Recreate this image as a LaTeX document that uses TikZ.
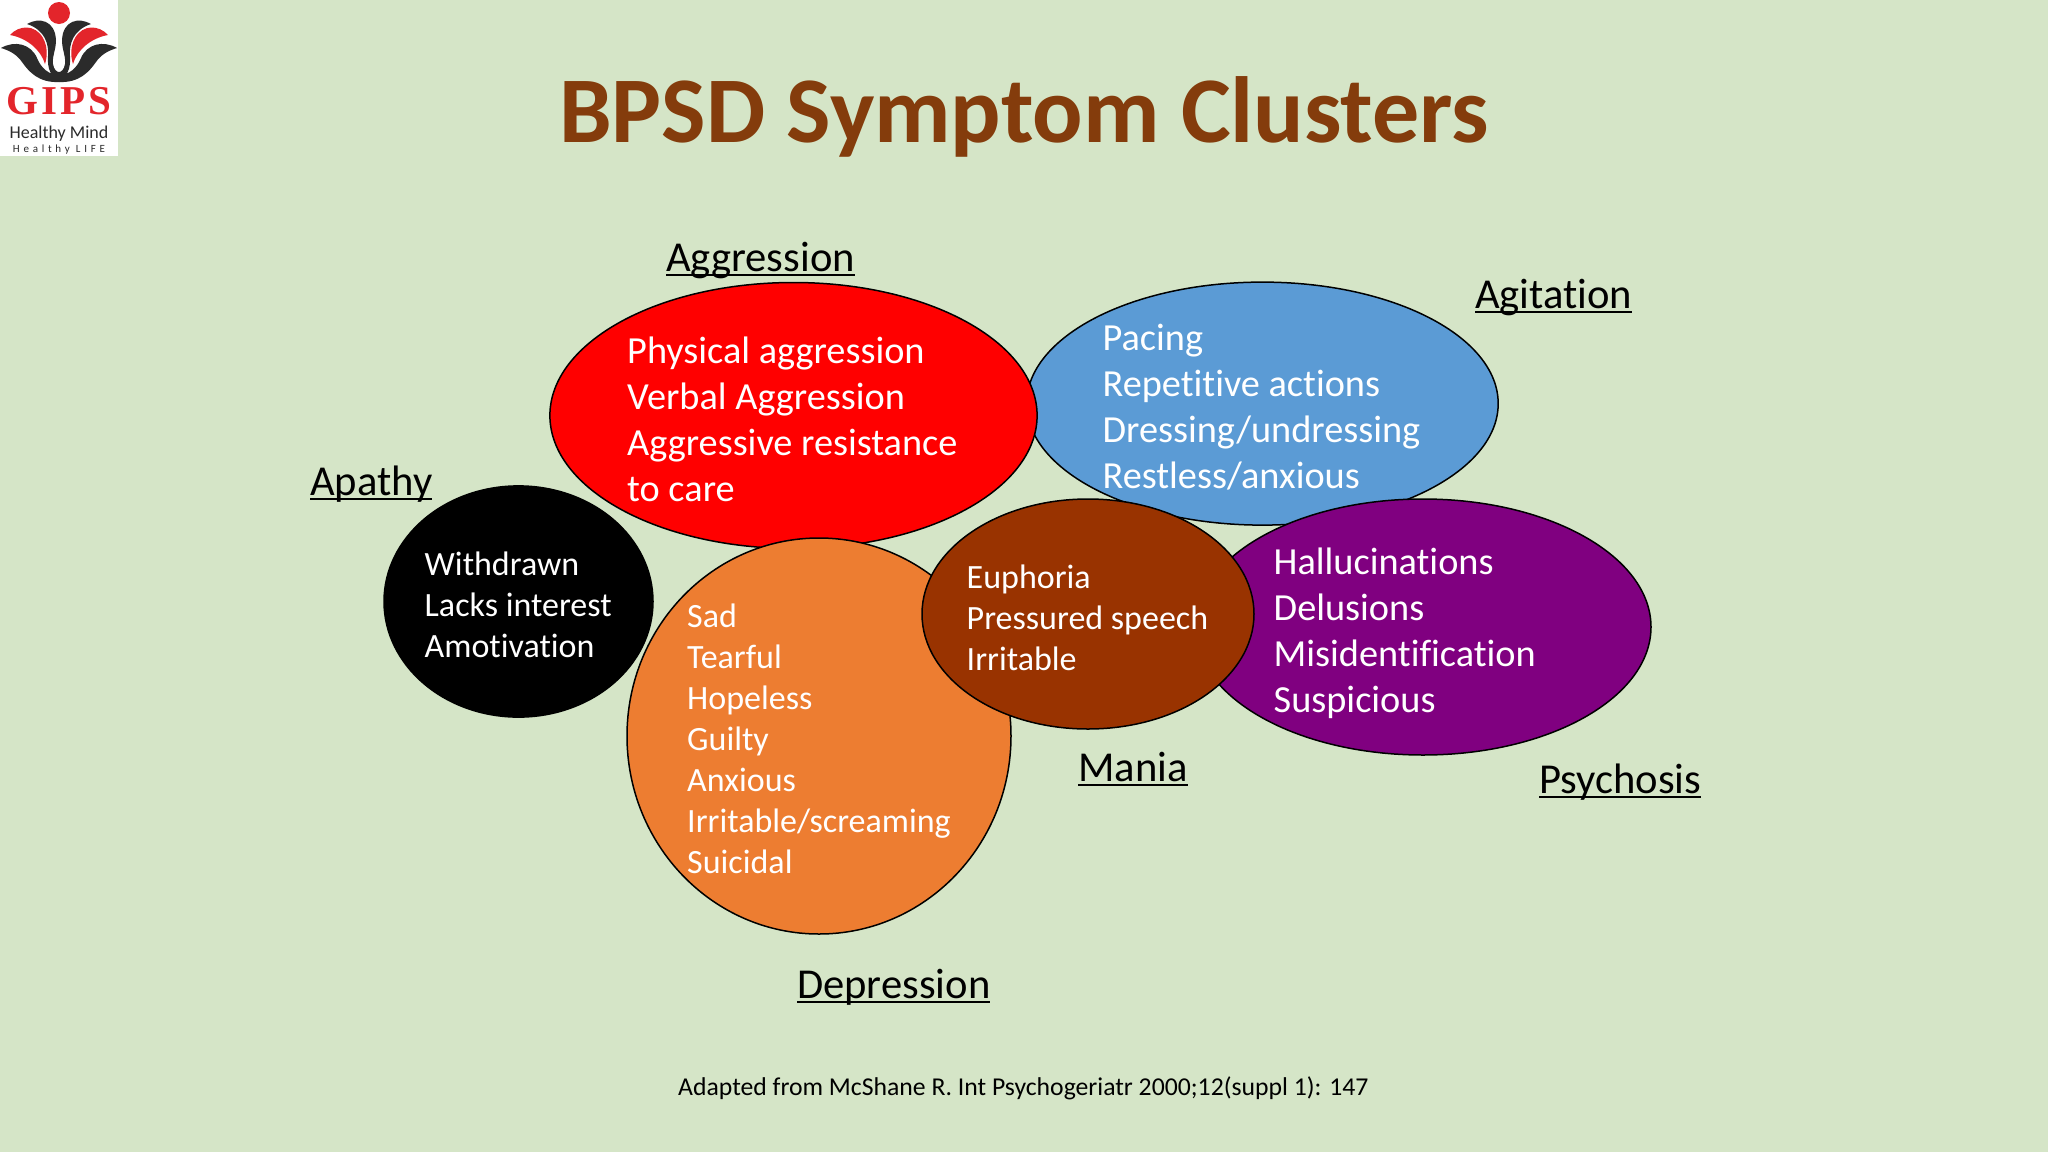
\documentclass[tikz,border=0pt]{standalone}
\usepackage{fontspec}
\setmainfont[Ligatures=NoCommon]{Carlito}
\newfontfamily\logofont{Liberation Serif}
\usetikzlibrary{shapes.geometric}

\definecolor{slidebg}{HTML}{D5E5C7}
\definecolor{titlebrown}{HTML}{843C0C}
\definecolor{aggred}{HTML}{FF0000}
\definecolor{agiblue}{HTML}{5B9BD5}
\definecolor{deporange}{HTML}{ED7D31}
\definecolor{maniabrown}{HTML}{993300}
\definecolor{psypurple}{HTML}{800080}
\definecolor{logored}{HTML}{E3252B}
\definecolor{logoblack}{HTML}{2B2B2B}

\newcommand{\ulabel}[1]{\setbox0\hbox{#1}\rlap{\rule[-4.5pt]{\wd0}{2.2pt}}#1}

\tikzset{
	cluster/.style={ellipse, draw=black, line width=1.5pt, inner sep=0pt},
	bigtext/.style={anchor=west, inner sep=0pt, align=left, text=white, font=\fontsize{38.3}{46.1}\selectfont},
	smalltext/.style={anchor=west, inner sep=0pt, align=left, text=white, font=\fontsize{34}{41}\selectfont},
	heading/.style={anchor=west, inner sep=0pt, text=black, font=\fontsize{42.6}{50}\selectfont},
}

\begin{document}
\begin{tikzpicture}[x=1pt,y=-1pt]
	\useasboundingbox (0,0) rectangle (2048,1152);
	\fill [slidebg] (0,0) rectangle (2048,1152);

	% logo
	\fill [white] (0,0) rectangle (118,156);
	\fill [logored] (59,13) circle (11);
	\foreach \side in {1,-1} {
		\begin{scope}[shift={(59,0)},xscale=\side]
			\fill [logoblack] (-32,24) .. controls (-20,17) and (-4,20) .. (-3,40)
				.. controls (-3,50) and (-7,56) .. (-6,64) .. controls (-5,70) and (-2,72) .. (0,72)
				-- (0,80) .. controls (-8,78) and (-12,68) .. (-11,56)
				.. controls (-10,44) and (-14,30) .. (-32,24) -- cycle;
			\fill [logored] (-49,35) .. controls (-40,25) and (-24,24) .. (-16,38)
				.. controls (-12,45) and (-11,55) .. (-14,64) .. controls (-18,50) and (-32,38) .. (-49,35) -- cycle;
			\fill [logoblack] (-58,48) .. controls (-44,40) and (-28,44) .. (-22,58)
				.. controls (-18,68) and (-10,75) .. (0,75) -- (0,82)
				.. controls (-20,83) and (-30,72) .. (-37,62) .. controls (-42,55) and (-48,51) .. (-58,48) -- cycle;
		\end{scope}
	}
	\node (logoname) [inner sep=0pt, text=logored] at (59,101) {\logofont\bfseries\fontsize{41}{42}\selectfont\addfontfeature{LetterSpace=8}GIPS};
	\node (logomind) [inner sep=0pt, text=logoblack] at (59,134) {\fontsize{18}{20}\selectfont Healthy Mind};
	\node (logolife) [inner sep=0pt, text=logoblack] at (59,150) {\fontsize{11}{12}\selectfont\addfontfeature{LetterSpace=34}Healthy LIFE};

	% title
	\node (title) [anchor=west, inner sep=0pt, text=titlebrown] at (559,117) {\bfseries\fontsize{94}{100}\selectfont BPSD Symptom Clusters};

	% clusters
	\node (agitation) [cluster, fill=agiblue, minimum width=471.6pt, minimum height=243pt] at (1262.4,403.6) {};
	\node (aggression) [cluster, fill=aggred, minimum width=487.2pt, minimum height=266pt] at (793.5,415.5) {};
	\node (depression) [cluster, fill=deporange, minimum width=384pt, minimum height=396pt] at (819,736) {};
	\node (apathy) [cluster, fill=black, minimum width=269pt, minimum height=231.2pt] at (518.5,601.5) {};
	\node (psychosis) [cluster, fill=psypurple, minimum width=456pt, minimum height=256pt] at (1423,627) {};
	\node (mania) [cluster, fill=maniabrown, minimum width=332pt, minimum height=230pt] at (1088,614) {};

	% texts inside
	\node (aggtext) [bigtext] at (627,419) {Physical aggression\\Verbal Aggression\\Aggressive resistance\\to care};
	\node (agitext) [bigtext] at (1102.4,407) {Pacing\\Repetitive actions\\Dressing/undressing\\Restless/anxious};
	\node (apatext) [smalltext] at (424.5,604.6) {Withdrawn\\Lacks interest\\Amotivation};
	\node (deptext) [smalltext] at (687,739) {Sad\\Tearful\\Hopeless\\Guilty\\Anxious\\Irritable/screaming\\Suicidal};
	\node (mantext) [smalltext] at (966.5,617.7) {Euphoria\\Pressured speech\\Irritable};
	\node (psytext) [bigtext] at (1273.5,633) {Hallucinations\\Delusions\\Misidentification\\Suspicious};

	% headings
	\node (agghead) [heading] at (666,260.5) {\ulabel{Aggression}};
	\node (agihead) [heading] at (1475,297.5) {\ulabel{Agitation}};
	\node (apahead) [heading] at (310,484.5) {\ulabel{Apathy}};
	\node (manhead) [heading] at (1078,769) {\ulabel{Mania}};
	\node (psyhead) [heading] at (1539,782.5) {\ulabel{Psychosis}};
	\node (dephead) [heading] at (797,987) {\ulabel{Depression}};

	\node (source) [anchor=west, inner sep=0pt, text=black] at (678,1088) {\fontsize{25.7}{30}\selectfont Adapted from McShane R. Int Psychogeriatr 2000;12(suppl 1): 147};
\end{tikzpicture}
\end{document}
